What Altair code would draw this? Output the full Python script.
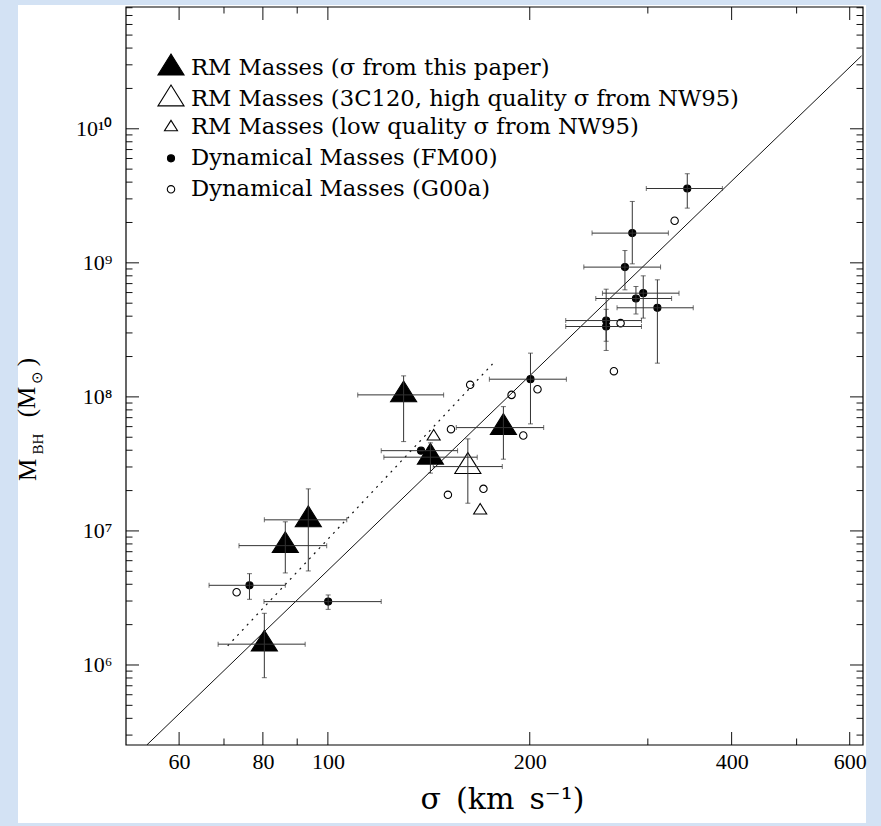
import altair as alt
import pandas as pd

# ---------------- data ----------------
LABELS = [
    "RM Masses (σ from this paper)",
    "RM Masses (3C120, high quality σ from NW95)",
    "RM Masses (low quality σ from NW95)",
    "Dynamical Masses (FM00)",
    "Dynamical Masses (G00a)",
]

# reverberation-mapping masses, sigma from this paper
rm_sigma = [129.7, 142.2, 182.7, 93.5, 86.4, 80.4]
rm_sigma_lo = [110.8, 121.2, 155.4, 80.4, 73.7, 68.6]
rm_sigma_hi = [148.8, 167.0, 209.8, 106.7, 99.6, 92.5]
rm_mass = [1.035e8, 3.55e7, 5.9e7, 1.21e7, 7.77e6, 1.43e6]
rm_mass_lo = [4.64e7, 2.70e7, 3.43e7, 5.03e6, 4.86e6, 8.04e5]
rm_mass_hi = [1.435e8, 4.54e7, 8.46e7, 2.06e7, 1.17e7, 2.43e6]

# 3C120, high quality sigma from NW95
hq_sigma = [161.7]
hq_sigma_lo = [143.6]
hq_sigma_hi = [182.0]
hq_mass = [3.02e7]
hq_mass_lo = [1.61e7]
hq_mass_hi = [4.86e7]

# low quality sigma from NW95
lq_sigma = [143.8, 168.7]
lq_mass = [5.06e7, 1.42e7]

# dynamical masses (FM00)
fm_sigma = [76.4, 100.1, 137.7, 200.5, 343.5, 284.4, 277.3, 295.3, 288.0, 310.0, 260.0, 260.0]
fm_sigma_lo = [66.5, 80.3, 120.1, 174.1, 298.4, 247.7, 240.8, 256.7, 250.9, 269.9, 226.3, 226.3]
fm_sigma_hi = [86.4, 120.1, 156.1, 226.8, 387.5, 321.9, 313.4, 333.9, 325.5, 350.6, 293.5, 293.5]
fm_mass = [3.93e6, 2.97e6, 3.97e7, 1.355e8, 3.585e9, 1.666e9, 9.29e8, 5.94e8, 5.42e8, 4.62e8, 3.71e8, 3.35e8]
fm_mass_lo = [3.09e6, 2.6e6, 3.97e7, 6.29e7, 2.56e9, 9.83e8, 6.29e8, 3.87e8, 4.16e8, 1.785e8, 2.6e8, 2.22e8]
fm_mass_hi = [4.8e6, 3.33e6, 3.97e7, 2.12e8, 4.62e9, 2.87e9, 1.235e9, 8.0e8, 6.66e8, 7.47e8, 6.36e8, 4.5e8]

# dynamical masses (G00a)
g_sigma = [73.1, 163.0, 187.9, 205.4, 195.6, 152.6, 151.0, 170.6, 267.0, 273.2, 328.9]
g_mass = [3.49e6, 1.23e8, 1.035e8, 1.14e8, 5.15e7, 5.74e7, 1.86e7, 2.06e7, 1.555e8, 3.55e8, 2.06e9]

# fitted relations
fit_sigma = [53.7, 624.8]
fit_mass = [2.53e5, 3.5e10]
rm_fit_sigma = [70.9, 176.0]
rm_fit_mass = [1.39e6, 1.76e8]

# axis ticks
x_major = [60, 80, 100, 200, 400, 600]
x_minor = [70, 90, 300, 500]
y_major = [1e6, 1e7, 1e8, 1e9, 1e10]
y_major_text = ["10⁶", "10⁷", "10⁸", "10⁹", "10¹⁰"]
y_minor = [k * 10 ** e for e in range(5, 11) for k in range(2, 10)]

X_DOMAIN = [50.0, 628.0]
Y_DOMAIN = [2.53e5, 8.1e10]
y_minor = [v for v in y_minor if Y_DOMAIN[0] < v < Y_DOMAIN[1]]

# ---------------- tables ----------------
points = pd.concat([
    pd.DataFrame({"series": LABELS[0], "sigma": rm_sigma, "mass": rm_mass}),
    pd.DataFrame({"series": LABELS[1], "sigma": hq_sigma, "mass": hq_mass}),
    pd.DataFrame({"series": LABELS[2], "sigma": lq_sigma, "mass": lq_mass}),
    pd.DataFrame({"series": LABELS[3], "sigma": fm_sigma, "mass": fm_mass}),
    pd.DataFrame({"series": LABELS[4], "sigma": g_sigma, "mass": g_mass}),
], ignore_index=True)

errs = pd.DataFrame({
    "sigma": rm_sigma + hq_sigma + fm_sigma,
    "slo": rm_sigma_lo + hq_sigma_lo + fm_sigma_lo,
    "shi": rm_sigma_hi + hq_sigma_hi + fm_sigma_hi,
    "mass": rm_mass + hq_mass + fm_mass,
    "mlo": rm_mass_lo + hq_mass_lo + fm_mass_lo,
    "mhi": rm_mass_hi + hq_mass_hi + fm_mass_hi,
})
caps_x = pd.concat([
    pd.DataFrame({"sigma": errs["slo"], "mass": errs["mass"]}),
    pd.DataFrame({"sigma": errs["shi"], "mass": errs["mass"]}),
], ignore_index=True)
caps_y = pd.concat([
    pd.DataFrame({"sigma": errs["sigma"], "mass": errs["mlo"]}),
    pd.DataFrame({"sigma": errs["sigma"], "mass": errs["mhi"]}),
], ignore_index=True)

fit = pd.DataFrame({"sigma": fit_sigma, "mass": fit_mass})
rm_fit = pd.DataFrame({"sigma": rm_fit_sigma, "mass": rm_fit_mass})

# ---------------- scales & axes ----------------
W, H = 737, 738
SERIF = "Liberation Serif"
WIDE_SERIF = "DejaVu Serif"
INK = "#111111"

x_scale = alt.Scale(type="log", domain=X_DOMAIN, nice=False)
y_scale = alt.Scale(type="log", domain=Y_DOMAIN, nice=False)

y_label_expr = " : ".join(
    f"datum.value < {v * 1.5:.3e} ? '{t}'" for v, t in zip(y_major, y_major_text)
) + " : ''"

x_axis = alt.Axis(
    values=x_major, format="d", ticks=False, domain=False, grid=False,
    labelFont=SERIF, labelFontSize=22, labelColor="black", labelPadding=6,
    labelFlush=False, labelOverlap=False,
    title="σ\u2002(km\u2002s⁻¹)", titleFont=WIDE_SERIF, titleFontSize=30,
    titleFontWeight="normal", titleColor="black", titlePadding=12,
    titleX=376, zindex=1,
)
y_axis = alt.Axis(
    values=y_major, labelExpr=y_label_expr, ticks=False, domain=False, grid=False,
    labelFont=SERIF, labelFontSize=22, labelColor="black", labelPadding=14,
    labelOverlap=False, title=None, zindex=1,
)


def X(field="sigma"):
    return alt.X(f"{field}:Q", scale=x_scale, axis=x_axis)


def Y(field="mass"):
    return alt.Y(f"{field}:Q", scale=y_scale, axis=y_axis)


# ---------------- layers ----------------
base = alt.Chart(pd.DataFrame({"k": [0]}))

# white page behind the plot and its labels
page = base.mark_rect(fill="white", clip=False).encode(
    x=alt.value(-108), x2=alt.value(740), y=alt.value(-2), y2=alt.value(816)
)
frame = base.mark_rect(fill=None, stroke="black", strokeWidth=1.2).encode(
    x=alt.value(0), x2=alt.value(W), y=alt.value(0), y2=alt.value(H)
)


def x_ticks(vals, length):
    d = alt.Chart(pd.DataFrame({"sigma": vals}))
    bottom = d.mark_rule(color=INK, strokeWidth=1).encode(
        x=X(), y=alt.value(H), y2=alt.value(H - length))
    top = d.mark_rule(color=INK, strokeWidth=1).encode(
        x=X(), y=alt.value(0), y2=alt.value(length))
    return [bottom, top]


def y_ticks(vals, length):
    d = alt.Chart(pd.DataFrame({"mass": vals}))
    left = d.mark_rule(color=INK, strokeWidth=1).encode(
        y=Y(), x=alt.value(0), x2=alt.value(length))
    right = d.mark_rule(color=INK, strokeWidth=1).encode(
        y=Y(), x=alt.value(W), x2=alt.value(W - length))
    return [left, right]


ticks = x_ticks(x_major, 13) + x_ticks(x_minor, 6.5) + y_ticks(y_major, 13) + y_ticks(y_minor, 6.5)

fit_line = alt.Chart(fit).mark_line(color=INK, strokeWidth=1, clip=True).encode(x=X(), y=Y())
rm_fit_line = alt.Chart(rm_fit).mark_line(
    color=INK, strokeWidth=1.2, strokeDash=[2, 5], clip=True
).encode(x=X(), y=Y())

# triangle centred on its centroid
TRI = "M0,-1.07L1,0.53L-1,0.53Z"

legend = alt.Legend(
    orient="none", legendX=31, legendY=47, title=None, padding=0,
    labelFont=WIDE_SERIF, labelFontSize=22.7, labelColor="black",
    labelOffset=6, rowPadding=2, gridAlign="all",
    symbolStrokeWidth=1.1, labelLimit=700,
)

pts = alt.Chart(points).mark_point(
    filled=True, opacity=1, strokeWidth=1.1
).encode(
    x=X(), y=Y(),
    shape=alt.Shape("series:N", legend=legend,
                    scale=alt.Scale(domain=LABELS, range=[TRI, TRI, TRI, "circle", "circle"])),
    size=alt.Size("series:N", legend=legend,
                  scale=alt.Scale(type="ordinal", domain=LABELS, range=[680, 680, 170, 50, 55])),
    fill=alt.Fill("series:N", legend=legend,
                  scale=alt.Scale(domain=LABELS,
                                  range=["black", "transparent", "transparent", "black", "transparent"])),
    stroke=alt.Stroke("series:N", legend=legend,
                      scale=alt.Scale(domain=LABELS, range=["black"] * 5)),
)

h_bars = alt.Chart(errs).mark_rule(color="#333333", strokeWidth=1).encode(
    x=X("slo"), x2="shi:Q", y=Y())
v_bars = alt.Chart(errs).mark_rule(color="#333333", strokeWidth=1).encode(
    x=X(), y=Y("mlo"), y2="mhi:Q")
h_caps = alt.Chart(caps_x).mark_tick(orient="vertical", size=5, thickness=1, color="#333333").encode(
    x=X(), y=Y())
v_caps = alt.Chart(caps_y).mark_tick(orient="horizontal", size=5, thickness=1, color="#333333").encode(
    x=X(), y=Y())

# y-axis title, M_BH (M_sun), rotated
title_parts = [
    ("M", 25, -98.5, 463),
    ("BH", 15, -88, 437),
    ("(M", 25, -99.5, 395),
    ("⊙", 15, -89, 370),
    (")", 25, -99.5, 355),
]
y_title = [
    base.mark_text(text=t, font=SERIF, fontSize=fs, angle=270, align="center",
                   baseline="middle", color="black").encode(x=alt.value(px), y=alt.value(py))
    for t, fs, px, py in title_parts
]

chart = alt.layer(
    page, *ticks, fit_line, rm_fit_line, pts, h_bars, v_bars, h_caps, v_caps, frame, *y_title
).properties(
    width=W, height=H,
    background="#d3e2f4",
    padding={"left": 126, "top": 7, "right": 18, "bottom": 81},
    autosize=alt.AutoSizeParams(type="none"),
).configure_view(stroke=None)

chart.save("out.html", embed_options={"renderer": "svg", "actions": False})
